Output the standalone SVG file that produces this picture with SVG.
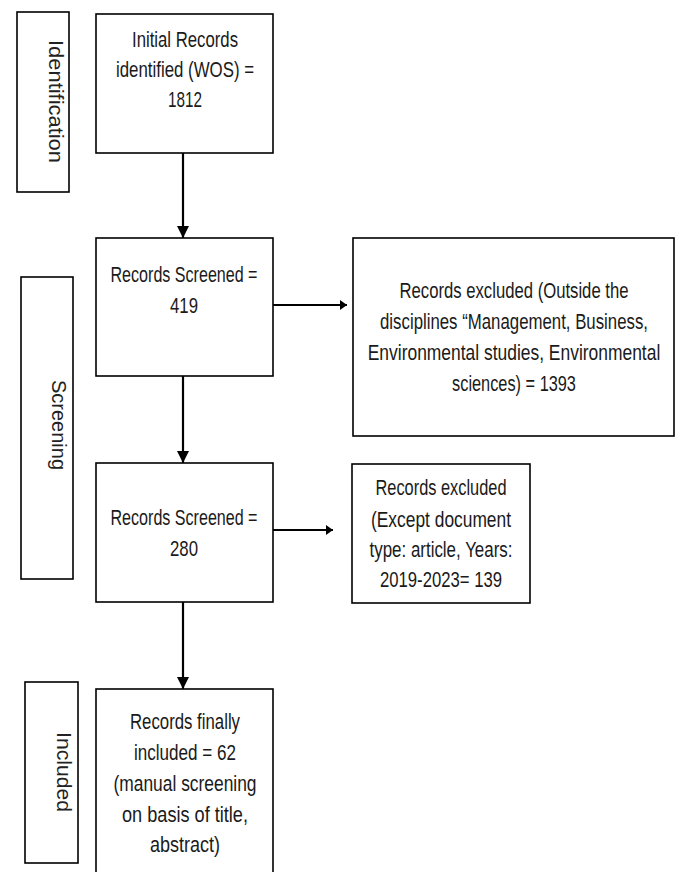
<svg xmlns="http://www.w3.org/2000/svg" width="676" height="872" viewBox="0 0 676 872">
<defs>
<style>
.box{fill:#fff;stroke:#000;stroke-width:1.6}
.lbl{fill:#fff;stroke:#000;stroke-width:1.6}
.t{font-family:"Liberation Sans","DejaVu Sans",sans-serif;font-size:21.5px;fill:#1a1a1a;text-anchor:middle}
.v{font-family:"Liberation Sans","DejaVu Sans",sans-serif;font-size:21px;fill:#222;text-anchor:middle}
.c{stroke:#000;stroke-width:2.2;fill:none}
</style>
<marker id="ah" markerUnits="userSpaceOnUse" markerWidth="12" markerHeight="12" refX="12" refY="6" orient="auto" viewBox="0 0 12 12">
<path d="M0,0 L12,6 L0,12 z" fill="#000"/>
</marker>
<marker id="ahs" markerUnits="userSpaceOnUse" markerWidth="7" markerHeight="10" refX="7" refY="5" orient="auto" viewBox="0 0 7 10">
<path d="M0,0 L7,5 L0,10 z" fill="#000"/>
</marker>
</defs>
<rect width="676" height="872" fill="#fff"/>

<g id="label-identification">
<rect class="lbl" x="17" y="12" width="52" height="180"/>
<text class="v" transform="translate(49,101.5) rotate(90)" textLength="123" lengthAdjust="spacingAndGlyphs">Identification</text>
</g>
<g id="label-screening">
<rect class="lbl" x="21" y="277" width="52" height="302"/>
<text class="v" transform="translate(52,425) rotate(90)" textLength="90" lengthAdjust="spacingAndGlyphs">Screening</text>
</g>
<g id="label-included">
<rect class="lbl" x="25" y="682" width="53" height="181"/>
<text class="v" transform="translate(57,772) rotate(90)" textLength="80" lengthAdjust="spacingAndGlyphs">Included</text>
</g>

<g id="connectors">
<line class="c" x1="183" y1="153" x2="183" y2="238" marker-end="url(#ah)"/>
<line class="c" x1="183" y1="376" x2="183" y2="463" marker-end="url(#ah)"/>
<line class="c" x1="183" y1="602" x2="183" y2="689" marker-end="url(#ah)"/>
<line class="c" x1="273" y1="305" x2="347" y2="305" marker-end="url(#ahs)"/>
<line class="c" x1="273" y1="530" x2="333" y2="530" marker-end="url(#ahs)"/>
</g>

<g id="n1">
<rect class="box" x="96" y="14" width="177" height="139"/>
<text class="t" x="185" y="47" textLength="106" lengthAdjust="spacingAndGlyphs">Initial Records</text>
<text class="t" x="185" y="77" textLength="138" lengthAdjust="spacingAndGlyphs">identified (WOS) =</text>
<text class="t" x="185" y="107" textLength="34" lengthAdjust="spacingAndGlyphs">1812</text>
</g>

<g id="n2">
<rect class="box" x="96" y="238" width="177" height="138"/>
<text class="t" x="184" y="282" textLength="147" lengthAdjust="spacingAndGlyphs">Records Screened =</text>
<text class="t" x="184" y="313" textLength="28" lengthAdjust="spacingAndGlyphs">419</text>
</g>

<g id="n3">
<rect class="box" x="353" y="238" width="321" height="198"/>
<text class="t" transform="translate(514,298) scale(0.776,1)">Records excluded (Outside the</text>
<text class="t" transform="translate(514,329) scale(0.782,1)">disciplines “Management, Business,</text>
<text class="t" transform="translate(514,360) scale(0.811,1)">Environmental studies, Environmental</text>
<text class="t" transform="translate(514,391) scale(0.76,1)">sciences) = 1393</text>
</g>

<g id="n4">
<rect class="box" x="96" y="463" width="177" height="139"/>
<text class="t" x="184" y="525" textLength="147" lengthAdjust="spacingAndGlyphs">Records Screened =</text>
<text class="t" x="184" y="556" textLength="28" lengthAdjust="spacingAndGlyphs">280</text>
</g>

<g id="n5">
<rect class="box" x="352" y="464" width="178" height="139"/>
<text class="t" x="441" y="495" textLength="131" lengthAdjust="spacingAndGlyphs">Records excluded</text>
<text class="t" x="441" y="527" textLength="140" lengthAdjust="spacingAndGlyphs">(Except document</text>
<text class="t" x="441" y="557" textLength="143" lengthAdjust="spacingAndGlyphs">type: article, Years:</text>
<text class="t" x="441" y="587" textLength="122" lengthAdjust="spacingAndGlyphs">2019-2023= 139</text>
</g>

<g id="n6">
<rect class="box" x="96" y="689" width="177" height="200"/>
<text class="t" x="185" y="729" textLength="110" lengthAdjust="spacingAndGlyphs">Records finally</text>
<text class="t" x="185" y="760" textLength="102" lengthAdjust="spacingAndGlyphs">included = 62</text>
<text class="t" x="185" y="791" textLength="143" lengthAdjust="spacingAndGlyphs">(manual screening</text>
<text class="t" x="185" y="822" textLength="126" lengthAdjust="spacingAndGlyphs">on basis of title,</text>
<text class="t" x="185" y="852" textLength="70" lengthAdjust="spacingAndGlyphs">abstract)</text>
</g>
</svg>
